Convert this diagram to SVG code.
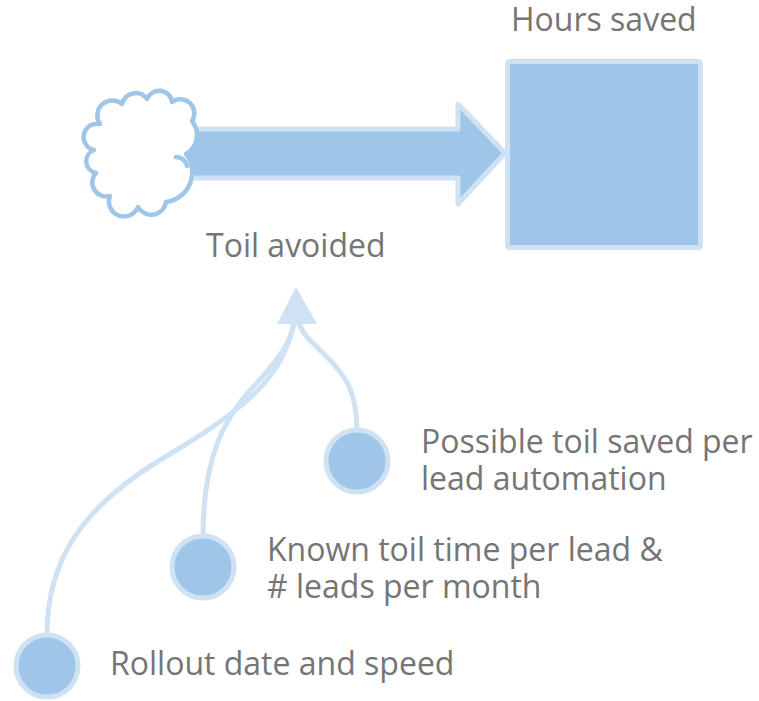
<svg xmlns="http://www.w3.org/2000/svg" width="759" height="701" viewBox="0 0 759 701">
  <style>
    .lbl { font-family: "Open Sans", "Liberation Sans", sans-serif; font-size: 32px; fill: #757575; }
    .node { fill: #9fc5e8; stroke: #cfe2f3; stroke-width: 5; }
    .link { fill: none; stroke: #cfe2f3; stroke-width: 5; }
    .cloud { fill: #ffffff; stroke: #9fc5e8; stroke-width: 4.5; stroke-linejoin: round; }
  </style>
  <rect width="759" height="701" fill="#ffffff"/>

  <!-- flow arrow from source cloud into stock -->
  <g id="flow">
    <polygon points="185,129 458,129 458,104 505,153 458,204 458,178 185,178" fill="#9fc5e8" stroke="#cfe2f3" stroke-width="5" stroke-linejoin="round"/>
  </g>

  <!-- source cloud -->
  <g id="source">
    <path class="cloud" d="M94,150 A13,13 0 0 1 100,124 A15,15 0 0 1 122,104 A14,14 0 0 1 147,99 A13,13 0 0 1 172,102 A14,14 0 0 1 192,121 A22,22 0 0 1 186,154 A30,30 0 0 1 166,202 A15,15 0 0 1 138,207 A15,15 0 0 1 110,196 A14,14 0 0 1 96,173 A12,12 0 0 1 94,150 Z"/>
    <path d="M176,157 A11,11 0 0 1 187,166" fill="none" stroke="#9fc5e8" stroke-width="4.5" stroke-linecap="round"/>
  </g>

  <!-- stock -->
  <g id="hours-saved">
    <rect x="507.5" y="61.5" width="193" height="186" rx="2" fill="#9fc5e8" stroke="#cfe2f3" stroke-width="5"/>
    <text class="lbl" x="511" y="31">Hours saved</text>
  </g>

  <text class="lbl" x="206" y="257">Toil avoided</text>

  <!-- influence links into the flow -->
  <g id="connectors">
    <path class="link" d="M357,432 C357,390 345,375 325,355 C312,342 302,335 298,320"/>
    <path class="link" d="M203,537 C203,460 222,420 255,385 C280,358 292,340 295,320"/>
    <path class="link" d="M47,635 C47,560 82,508 160,460 C240,412 285,380 294,320"/>
    <polygon points="296,287 317,324 277,324" fill="#cfe2f3"/>
  </g>

  <g id="toil-per-automation">
    <circle class="node" cx="357" cy="461" r="31"/>
    <text class="lbl" x="421" y="453">Possible toil saved per</text>
    <text class="lbl" x="421" y="490">lead automation</text>
  </g>

  <g id="toil-per-lead">
    <circle class="node" cx="203" cy="567" r="31"/>
    <text class="lbl" x="267" y="561">Known toil time per lead &amp;</text>
    <text class="lbl" x="267" y="598">#  leads per month</text>
  </g>

  <g id="rollout">
    <circle class="node" cx="47" cy="666" r="31"/>
    <text class="lbl" x="110" y="675">Rollout date and speed</text>
  </g>
</svg>
